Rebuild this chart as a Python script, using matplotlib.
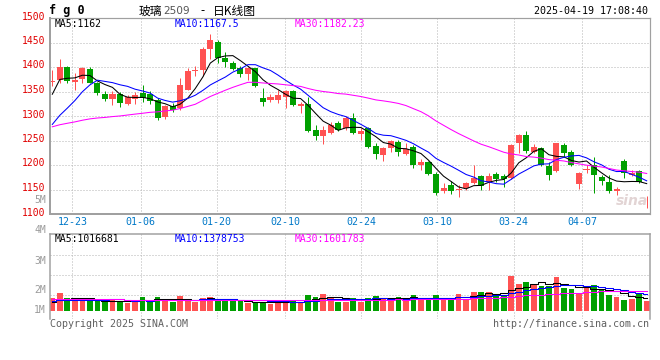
import numpy as np
import matplotlib
matplotlib.use("Agg")
import matplotlib.pyplot as plt
from matplotlib.transforms import ScaledTranslation

# ---------------- data ----------------
opens = [1370, 1374, 1401, 1370, 1375, 1395, 1367, 1345, 1335, 1345,
         1324, 1335, 1346, 1344, 1333, 1297, 1320, 1316, 1354, 1391,
         1394, 1436, 1452, 1418, 1409, 1397, 1385, 1397, 1337, 1333,
         1333, 1339, 1352, 1320, 1324, 1271, 1260, 1265, 1285, 1275,
         1295, 1264, 1275, 1239, 1220, 1235, 1246, 1223, 1237, 1200,
         1207, 1182, 1146, 1159, 1149, 1153, 1163, 1178, 1166, 1182,
         1178, 1173, 1244, 1261, 1227, 1234, 1197, 1188, 1241, 1226,
         1161, 1190, 1199, 1175, 1166, 1146, 1208, 1180, 1188, 1124]
highs = [1393, 1416, 1402, 1387, 1400, 1401, 1370, 1351, 1352, 1350,
         1343, 1348, 1363, 1352, 1336, 1322, 1326, 1377, 1397, 1402,
         1441, 1467, 1455, 1430, 1412, 1403, 1399, 1398, 1358, 1345,
         1353, 1353, 1354, 1329, 1338, 1282, 1280, 1288, 1289, 1299,
         1307, 1275, 1278, 1244, 1237, 1252, 1251, 1244, 1241, 1212,
         1209, 1186, 1163, 1167, 1159, 1166, 1200, 1180, 1183, 1186,
         1182, 1243, 1263, 1269, 1243, 1237, 1207, 1245, 1244, 1230,
         1186, 1200, 1216, 1180, 1180, 1155, 1212, 1189, 1190, 1137]
lows = [1361, 1367, 1368, 1354, 1368, 1367, 1343, 1331, 1322, 1318,
        1322, 1324, 1329, 1324, 1292, 1294, 1309, 1312, 1353, 1382,
        1382, 1416, 1408, 1400, 1393, 1380, 1373, 1360, 1321, 1328,
        1326, 1316, 1320, 1307, 1267, 1251, 1243, 1263, 1270, 1271,
        1263, 1251, 1234, 1212, 1208, 1227, 1219, 1220, 1194, 1190,
        1180, 1139, 1142, 1141, 1134, 1150, 1162, 1149, 1150, 1166,
        1156, 1171, 1224, 1224, 1224, 1197, 1169, 1186, 1217, 1197,
        1152, 1183, 1142, 1160, 1142, 1139, 1174, 1177, 1163, 1112]
closes = [1371, 1401, 1372, 1374, 1398, 1368, 1346, 1335, 1345, 1327,
          1339, 1343, 1336, 1331, 1295, 1320, 1312, 1363, 1392, 1393,
          1437, 1455, 1418, 1410, 1396, 1386, 1398, 1362, 1328, 1339,
          1343, 1350, 1322, 1324, 1270, 1260, 1271, 1282, 1271, 1295,
          1266, 1269, 1237, 1222, 1235, 1250, 1226, 1233, 1201, 1207,
          1182, 1142, 1154, 1147, 1151, 1163, 1174, 1157, 1178, 1171,
          1172, 1241, 1261, 1229, 1236, 1199, 1180, 1244, 1224, 1199,
          1183, 1191, 1180, 1167, 1146, 1152, 1184, 1183, 1166, 1125]
# volume, millions of lots
volumes = [1.09, 1.49, 1.09, 0.90, 0.90, 0.82, 0.82, 0.82, 0.90, 0.71,
           0.63, 0.90, 1.17, 0.82, 1.17, 0.90, 0.71, 1.25, 0.90, 0.71,
           1.09, 1.17, 0.98, 0.82, 0.82, 0.82, 0.63, 0.77, 0.77, 0.55,
           0.77, 0.90, 0.82, 0.63, 1.31, 1.17, 1.40, 1.06, 0.77, 0.77,
           1.04, 0.77, 1.04, 1.22, 1.04, 1.04, 1.14, 0.98, 1.31, 0.98,
           0.90, 1.31, 0.98, 1.09, 1.40, 0.98, 1.58, 1.58, 1.58, 1.25,
           1.31, 2.81, 2.21, 2.32, 2.21, 2.04, 2.04, 2.73, 1.91, 1.80,
           1.37, 1.85, 2.12, 1.80, 1.31, 1.17, 0.90, 0.98, 1.37, 0.82]
# sessions before the visible window (only feed the moving averages)
prior_closes = [1275, 1282, 1290, 1296, 1285, 1292, 1300, 1294, 1288, 1283,
                1286, 1285, 1272, 1268, 1262, 1266, 1260, 1265, 1262, 1200,
                1215, 1225, 1220, 1218, 1228, 1250, 1360, 1370, 1371]
prior_volumes = [1.10, 0.95, 1.20, 1.05, 0.98, 1.12, 1.00, 1.15, 1.08, 0.96,
                 1.10, 1.05, 1.18, 0.99, 1.02, 1.10, 1.06, 1.00, 1.12, 1.09,
                 0.95, 0.88, 0.92, 0.90, 0.90, 0.60, 0.65, 0.58, 0.63]

date_ticks = [3, 12, 22, 31, 41, 51, 61, 70]
date_labels = ["12-23", "01-06", "01-20", "02-10", "02-24", "03-10", "03-24", "04-07"]
price_ticks = [1100, 1150, 1200, 1250, 1300, 1350, 1400, 1450, 1500]
vol_labels = ["5M", "4M", "3M", "2M", "1M"]
ma_windows = [5, 10, 30]
price_ma_text = ["MA5:1162", "MA10:1167.5", "MA30:1182.23"]
vol_ma_text = ["MA5:1016681", "MA10:1378753", "MA30:1601783"]

# ---------------- styling ----------------
W, H = 660, 360
RED, GREEN = "#ff5252", "#00a000"
MA_COLORS = ["#000000", "#0000ff", "#ff00ff"]
GRID = "#b4b4b4"
BORDER = "#a0a0a0"
PX = 0.72  # one pixel in points
MONO = "DejaVu Sans Mono"
CJK = ["Noto Sans CJK SC", "DejaVu Sans"]


def fx(px):
    return px / W


def fy(py):
    return 1 - py / H


def sma(values, prior, n):
    full = np.asarray(list(prior) + list(values), dtype=float)
    out = np.convolve(full, np.ones(n) / n, mode="valid")
    return out[-len(values):]


fig = plt.figure(figsize=(W / 100, H / 100), dpi=100)
fig.patch.set_facecolor("white")

# candle geometry: centre of candle i at 52.3 + 7.524*i px
X0, STEP = 52.3, 7.524
xlim = ((50 - X0) / STEP, (650 - X0) / STEP)
grid_x = [(72.3 + (t - 3) * 7.607 - X0) / STEP for t in date_ticks]

n = len(closes)
idx = np.arange(n)
up = [c >= o for o, c in zip(opens, closes)]
colors = [RED if u else GREEN for u in up]

# ---------------- price panel ----------------
ax = fig.add_axes([fx(50), fy(214), 600 / W, 196 / H])
ax.set_xlim(*xlim)
ax.set_ylim(1100, 1500)
ax.set_facecolor("white")

for p in price_ticks[1:-1]:
    ax.axhline(p, color=GRID, lw=PX, ls=(0, (1, 2)), zorder=0.5)
for gx in grid_x:
    ax.axvline(gx, color=GRID, lw=PX, ls=(0, (1, 2)), zorder=0.5)

ax.vlines(idx, lows, highs, colors=colors, lw=PX, zorder=2)
bodies_h = [max(abs(c - o), 2.0) for o, c in zip(opens, closes)]
bodies_b = [min(o, c) if abs(c - o) >= 2.0 else (o + c) / 2 - 1.0
            for o, c in zip(opens, closes)]
ax.bar(idx, bodies_h, bottom=bodies_b, width=0.8, color=colors, lw=0, zorder=2.5)

for w, col in zip(ma_windows, MA_COLORS):
    ax.plot(idx, sma(closes, prior_closes, w), color=col, lw=PX * 1.05, zorder=3)

ax.set_yticks(price_ticks)
ax.set_yticklabels([str(p) for p in price_ticks])
ax.tick_params(axis="y", length=0, pad=3, labelsize=7, labelcolor="#e00000")
for lab in ax.get_yticklabels():
    lab.set_fontfamily(MONO)
    lab.set_transform(lab.get_transform() + ScaledTranslation(0, 2.5 / 100, fig.dpi_scale_trans))
ax.set_xticks(grid_x)
ax.set_xticklabels(date_labels)
ax.tick_params(axis="x", length=0, pad=2.5, labelsize=7.2, labelcolor="#0078c8")
for lab in ax.get_xticklabels():
    lab.set_fontfamily(MONO)

for side in ["left", "bottom"]:
    ax.spines[side].set_color(BORDER)
    ax.spines[side].set_linewidth(PX * 2)
for side in ["top", "right"]:
    ax.spines[side].set_color(BORDER)
    ax.spines[side].set_linewidth(PX * 1.2)

ax.text((632 - 50) / 600, (214 - 201) / 196, "sina", transform=ax.transAxes,
        ha="center", va="center", fontsize=10, style="italic", weight="bold",
        color="#e2d4d4", zorder=1)

for txt, col, x in zip(price_ma_text, MA_COLORS, [55, 175, 295]):
    fig.text(fx(x), fy(24), txt, color=col, family=MONO, fontsize=7, va="center", ha="left")

# ---------------- volume panel ----------------
VBASE, VSCALE = 311, 12.3  # px of zero volume, px per million
vax = fig.add_axes([fx(50), fy(319), 600 / W, 85 / H])
vax.set_xlim(*xlim)
vax.set_ylim((VBASE - 319) / VSCALE, (VBASE - 234) / VSCALE)
for py in [255, 275, 295]:
    vax.axhline((VBASE - py) / VSCALE, color=GRID, lw=PX, ls=(0, (1, 2)), zorder=0.5)
for gx in grid_x:
    vax.axvline(gx, color=GRID, lw=PX, ls=(0, (1, 2)), zorder=0.5)
vax.bar(idx, volumes, width=0.76, color=colors, lw=0, zorder=2)
for w, col in zip(ma_windows, MA_COLORS):
    vax.plot(idx, sma(volumes, prior_volumes, w), color=col, lw=PX * 1.05,
             drawstyle="steps-mid", zorder=3)
vax.set_xticks([])
vax.set_yticks([])
vax.spines["bottom"].set_visible(False)
for side in ["left", "top", "right"]:
    vax.spines[side].set_color(BORDER)
    vax.spines[side].set_linewidth(PX * 1.5)

for lab, py in zip(vol_labels, [200, 230, 261, 290, 310]):
    fig.text(fx(46), fy(py), lab, color="#9a9a9a", family=MONO, fontsize=7,
             ha="right", va="center")
for txt, col, x in zip(vol_ma_text, MA_COLORS, [55, 175, 295]):
    fig.text(fx(x), fy(239.5), txt, color=col, family=MONO, fontsize=7, va="center", ha="left")

# ---------------- header / footer ----------------
fig.text(fx(49), fy(10.5), "f g 0", family=MONO, weight="bold", fontsize=8.5,
         ha="left", va="center", color="black")
fig.text(fx(139), fy(11), "玻璃", family=CJK, fontsize=8.5, ha="left", va="center", color="black")
fig.text(fx(163), fy(11.5), "2509", family="DejaVu Sans", fontsize=7.6, ha="left", va="center",
         color="#555555")
fig.text(fx(200), fy(11), "-", family=CJK, fontsize=8.5, ha="left", va="center", color="black")
fig.text(fx(213), fy(11), "日K线图", family=CJK, fontsize=8.5, ha="left", va="center", color="black")
fig.text(fx(648), fy(11.5), "2025-04-19 17:08:40", family=MONO, fontsize=7.2,
         ha="right", va="center", color="black")
fig.text(fx(50), fy(324), "Copyright 2025 SINA.COM", family=MONO, fontsize=7.2,
         ha="left", va="center", color="#606060")
fig.text(fx(649), fy(324), "http://finance.sina.com.cn", family=MONO, fontsize=7.2,
         ha="right", va="center", color="#606060")

fig.savefig("out.png", dpi=100, facecolor="white")
